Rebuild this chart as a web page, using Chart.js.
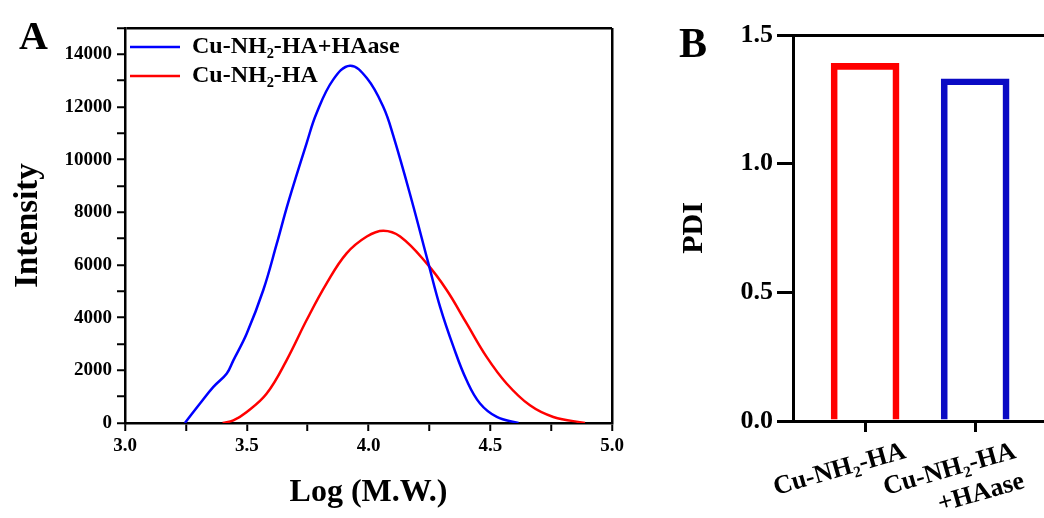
<!DOCTYPE html>
<html>
<head>
<meta charset="utf-8">
<title>GPC - Cu-NH2-HA</title>
<script src="https://cdn.jsdelivr.net/npm/chart.js@4.4.1/dist/chart.umd.min.js"></script>
<style>
  body { margin: 0; overflow: hidden; background: #fff; width: 1044px; height: 518px; position: relative; }
  .panel { position: absolute; top: 0; height: 518px; }
  #boxA { left: 0; width: 650px; }
  #boxB { left: 650px; width: 400px; }
  .tag { position: absolute; font-family: "Liberation Serif", serif; font-weight: bold; line-height: 1; color: #000; }
</style>
</head>
<body>
<div class="panel" id="boxA"><canvas id="chartA"></canvas></div>
<div class="panel" id="boxB"><canvas id="chartB"></canvas></div>
<div class="tag" style="left:19px; top:16px; font-size:40px;">A</div>
<div class="tag" style="left:679px; top:22px; font-size:42px;">B</div>
<script>
// panel A: GPC curves
var logMW_enz = [3.246, 3.308, 3.363, 3.418, 3.445, 3.500, 3.568, 3.623, 3.671, 3.746, 3.787, 3.855, 3.924, 3.993, 4.061, 4.102, 4.177, 4.246, 4.294, 4.349, 4.403, 4.458, 4.527, 4.616];
var intensity_enz = [0, 740, 1370, 1880, 2380, 3400, 5050, 6800, 8400, 10630, 11770, 13040, 13570, 13100, 12000, 10900, 8470, 6060, 4410, 2890, 1620, 740, 230, 0];
var logMW_ha = [3.401, 3.445, 3.500, 3.582, 3.664, 3.746, 3.828, 3.910, 3.993, 4.061, 4.130, 4.239, 4.321, 4.403, 4.485, 4.567, 4.663, 4.759, 4.889];
var intensity_ha = [0, 100, 420, 1120, 2390, 3910, 5300, 6440, 7080, 7300, 7080, 6060, 5050, 3780, 2510, 1500, 670, 230, 0];

// panel B: PDI
var groups = [['Cu-NH\u2082-HA'], ['Cu-NH\u2082-HA', '+HAase']];
var pdi = [1.39, 1.33];
var barColors = ['#ff0000', '#0a0ac4'];

Chart.defaults.font.family = '"Liberation Serif", "Times New Roman", serif';
Chart.defaults.font.weight = 'bold';
Chart.defaults.color = '#000';
Chart.defaults.animation = false;

function pairs(xs, ys) {
  return xs.map(function (x, i) { return { x: x, y: ys[i] }; });
}

new Chart(document.getElementById('chartA'), {
  type: 'line',
  data: {
    datasets: [
      {
        label: 'Cu-NH\u2082-HA+HAase',
        data: pairs(logMW_enz, intensity_enz),
        borderColor: '#0000ff',
        backgroundColor: '#0000ff',
        borderWidth: 2.5,
        pointRadius: 0,
        tension: 0.4
      },
      {
        label: 'Cu-NH\u2082-HA',
        data: pairs(logMW_ha, intensity_ha),
        borderColor: '#ff0000',
        backgroundColor: '#ff0000',
        borderWidth: 2.5,
        pointRadius: 0,
        tension: 0.4
      }
    ]
  },
  options: {
    responsive: true,
    maintainAspectRatio: false,
    layout: { padding: { top: 28, right: 38, bottom: 0, left: 0 } },
    plugins: {
      tooltip: { enabled: false },
      legend: {
        position: 'chartArea',
        align: 'start',
        // empty title only used as a spacer, the legend box starts at the canvas top
        title: { display: true, text: '', font: { size: 10 }, padding: 9 },
        labels: {
          usePointStyle: true,
          pointStyle: 'line',
          pointStyleWidth: 50,
          boxHeight: 24,
          padding: 5,
          font: { size: 24, weight: 'bold' },
          color: '#000'
        }
      }
    },
    scales: {
      x: {
        type: 'linear',
        min: 3,
        max: 5,
        afterFit: function (s) { s.height = 95; },
        border: { display: true, color: '#000', width: 2.5 },
        grid: {
          drawOnChartArea: true,
          color: function (c) { return c.tick && c.tick.value === 5 ? '#000' : 'rgba(0,0,0,0)'; },
          lineWidth: 2.5,
          tickColor: '#000',
          tickWidth: 2,
          tickLength: 8
        },
        ticks: {
          stepSize: 0.25,
          autoSkip: false,
          maxRotation: 0,
          padding: 4,
          font: { size: 19, weight: 'bold' },
          callback: function (v) { return Math.abs(v * 2 - Math.round(v * 2)) < 1e-6 ? v.toFixed(1) : ''; }
        },
        title: {
          display: true,
          text: 'Log (M.W.)',
          font: { size: 32, weight: 'bold' },
          padding: { top: 0, bottom: 6 }
        }
      },
      y: {
        min: 0,
        max: 15000,
        afterFit: function (s) { s.width = 125; },
        border: { display: true, color: '#000', width: 2.5 },
        grid: {
          drawOnChartArea: true,
          color: function (c) { return c.tick && c.tick.value === 15000 ? '#000' : 'rgba(0,0,0,0)'; },
          lineWidth: 2.5,
          tickColor: '#000',
          tickWidth: 2,
          tickLength: 8
        },
        ticks: {
          stepSize: 1000,
          autoSkip: false,
          padding: 5,
          font: { size: 19, weight: 'bold' },
          callback: function (v) { return v % 2000 === 0 ? String(v) : ''; }
        },
        title: {
          display: true,
          text: 'Intensity',
          font: { size: 33, weight: 'bold' },
          padding: { top: 9, bottom: 0 }
        }
      }
    }
  }
});

new Chart(document.getElementById('chartB'), {
  type: 'bar',
  data: {
    datasets: [{
      label: 'PDI',
      data: pdi.map(function (v, i) { return { x: i + 1, y: v }; }),
      borderColor: barColors,
      backgroundColor: 'rgba(0,0,0,0)',
      borderWidth: 6,
      barThickness: 68
    }]
  },
  options: {
    responsive: true,
    maintainAspectRatio: false,
    layout: { padding: { top: 35, right: 0, bottom: 0, left: 0 } },
    plugins: { legend: { display: false }, tooltip: { enabled: false } },
    scales: {
      x: {
        type: 'linear',
        offset: false,
        min: 0.345,
        max: 2.68,
        afterFit: function (s) { s.height = 97; },
        afterBuildTicks: function (s) { s.ticks = groups.map(function (g, i) { return { value: i + 1 }; }); },
        border: { display: true, color: '#000', width: 3 },
        grid: { offset: false, drawOnChartArea: false, tickColor: '#000', tickWidth: 3, tickLength: 11 },
        ticks: {
          autoSkip: false,
          minRotation: 16,
          maxRotation: 16,
          labelOffset: 40,
          padding: 4,
          font: { size: 26, weight: 'bold' },
          callback: function (v) { return groups[v - 1] || ''; }
        }
      },
      y: {
        min: 0,
        max: 1.5,
        afterFit: function (s) { s.width = 143; },
        border: { display: true, color: '#000', width: 3 },
        grid: {
          drawOnChartArea: true,
          color: function (c) { return c.tick && c.tick.value === 1.5 ? '#000' : 'rgba(0,0,0,0)'; },
          lineWidth: 3,
          tickColor: '#000',
          tickWidth: 3,
          tickLength: 16
        },
        ticks: {
          stepSize: 0.5,
          padding: 4,
          font: { size: 26, weight: 'bold' },
          callback: function (v) { return v.toFixed(1); }
        },
        title: {
          display: true,
          text: 'PDI',
          font: { size: 30, weight: 'bold' },
          padding: { top: 26, bottom: 0 }
        }
      }
    }
  }
});
</script>
</body>
</html>
